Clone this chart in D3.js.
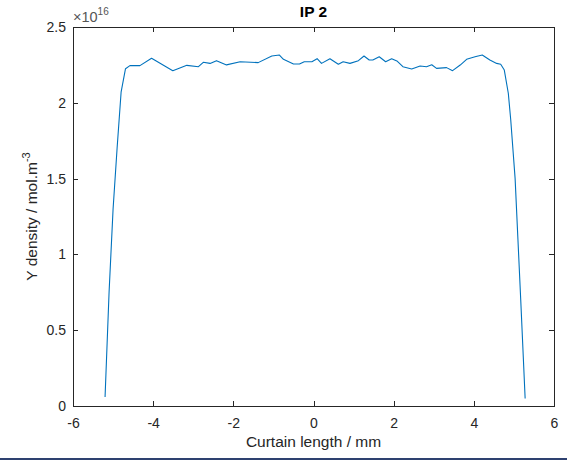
<!DOCTYPE html>
<html>
<head>
<meta charset="utf-8">
<script src="https://cdn.jsdelivr.net/npm/d3@7"></script>
<style>
  body { margin: 0; background: #fff; }
  svg { display: block; font-family: "Liberation Sans", Arial, sans-serif; }
</style>
</head>
<body>
<div id="chart"></div>
<script>
// curtain position (mm)
const xVals = [-5.20, -5.10, -5.00, -4.90, -4.80, -4.69, -4.58, -4.33, -4.04, -3.51,
  -3.16, -2.87, -2.75, -2.58, -2.42, -2.17, -1.83, -1.38, -1.04, -0.85,
  -0.75, -0.50, -0.35, -0.23, -0.04, 0.09, 0.20, 0.41, 0.62, 0.74,
  0.91, 1.12, 1.26, 1.39, 1.48, 1.64, 1.80, 1.95, 2.08, 2.23,
  2.45, 2.66, 2.82, 2.95, 3.07, 3.32, 3.47, 3.66, 3.82, 4.03,
  4.21, 4.40, 4.57, 4.67, 4.76, 4.86, 4.92, 5.03, 5.10, 5.17, 5.28];
// density in units of 1e16 mol/m3
const yVals = [0.06, 0.75, 1.30, 1.70, 2.07, 2.225, 2.245, 2.245, 2.294, 2.212,
  2.247, 2.238, 2.267, 2.26, 2.278, 2.25, 2.271, 2.265, 2.309, 2.315,
  2.287, 2.256, 2.256, 2.271, 2.271, 2.291, 2.26, 2.291, 2.254, 2.271,
  2.26, 2.278, 2.309, 2.282, 2.282, 2.304, 2.271, 2.291, 2.276, 2.238,
  2.223, 2.243, 2.238, 2.251, 2.227, 2.232, 2.212, 2.249, 2.287, 2.304,
  2.315, 2.282, 2.26, 2.254, 2.216, 2.063, 1.89, 1.50, 1.10, 0.70, 0.05];
const xTicks = [-6, -4, -2, 0, 2, 4, 6];
const yTicks = [0, 0.5, 1, 1.5, 2, 2.5];

const W = 567, H = 461;
const margin = { top: 27, right: 13, bottom: 55, left: 73 };
const width = W - margin.left - margin.right;
const height = H - margin.top - margin.bottom;
const axisCol = "#262626";

const svg = d3.select("#chart").append("svg")
  .attr("width", W)
  .attr("height", H);

svg.append("rect").attr("width", W).attr("height", H).attr("fill", "#fff");

// window border at the bottom
svg.append("rect")
  .attr("x", 0).attr("y", 458).attr("width", W).attr("height", 2)
  .attr("fill", "#2e4170");

const g = svg.append("g")
  .attr("transform", `translate(${margin.left},${margin.top})`);

const x = d3.scaleLinear().domain([-6, 6]).range([0, width]);
const y = d3.scaleLinear().domain([0, 2.5]).range([height, 0]);

function styleAxis(sel) {
  sel.attr("font-family", "'Liberation Sans', Arial, sans-serif").attr("font-size", 14);
  sel.selectAll(".domain").attr("stroke", axisCol).attr("shape-rendering", "crispEdges");
  sel.selectAll(".tick line").attr("stroke", axisCol).attr("shape-rendering", "crispEdges");
  sel.selectAll("text").attr("fill", axisCol);
}

const fmt = d => String(d);

// bottom + left with labels, top + right just ticks
g.append("g")
  .attr("transform", `translate(0,${height})`)
  .call(d3.axisBottom(x).tickValues(xTicks).tickFormat(fmt).tickSizeInner(-5).tickSizeOuter(0).tickPadding(12))
  .call(styleAxis);

g.append("g")
  .call(d3.axisLeft(y).tickValues(yTicks).tickFormat(fmt).tickSizeInner(-5).tickSizeOuter(0).tickPadding(7))
  .call(styleAxis);

g.append("g")
  .call(d3.axisTop(x).tickValues(xTicks).tickFormat("").tickSizeInner(-5).tickSizeOuter(0))
  .call(styleAxis);

g.append("g")
  .attr("transform", `translate(${width},0)`)
  .call(d3.axisRight(y).tickValues(yTicks).tickFormat("").tickSizeInner(-5).tickSizeOuter(0))
  .call(styleAxis);

// === Line ===
const pts = xVals.map((d, i) => [d, yVals[i]]);
g.append("path")
  .datum(pts)
  .attr("fill", "none")
  .attr("stroke", "#0072BD")
  .attr("stroke-width", 1.1)
  .attr("stroke-linejoin", "round")
  .attr("d", d3.line().x(d => x(d[0])).y(d => y(d[1])));

// === Exponent ===
const exp = g.append("text")
  .attr("x", 0)
  .attr("y", -5)
  .attr("fill", "#555")
  .style("font-size", "14.5px");
exp.append("tspan").style("font-size", "14.5px").text("\u00d710");
exp.append("tspan").attr("dy", -7).style("font-size", "10px").text("16");

// === Title ===
g.append("text")
  .attr("x", width / 2)
  .attr("y", -10)
  .attr("text-anchor", "middle")
  .attr("font-weight", "bold")
  .style("font-size", "15.5px")
  .attr("fill", "#000")
  .text("IP 2");

// === Labels ===
g.append("text")
  .attr("x", width / 2)
  .attr("y", height + 41)
  .attr("text-anchor", "middle")
  .style("font-size", "15.5px")
  .attr("fill", axisCol)
  .text("Curtain length / mm");

const yl = g.append("text")
  .attr("transform", "rotate(-90)")
  .attr("x", -height / 2)
  .attr("y", -36)
  .attr("text-anchor", "middle")
  .style("font-size", "15.5px")
  .attr("fill", axisCol);
yl.append("tspan").text("Y density / mol.m");
yl.append("tspan").attr("dy", -7).style("font-size", "11px").text("-3");
</script>
</body>
</html>
